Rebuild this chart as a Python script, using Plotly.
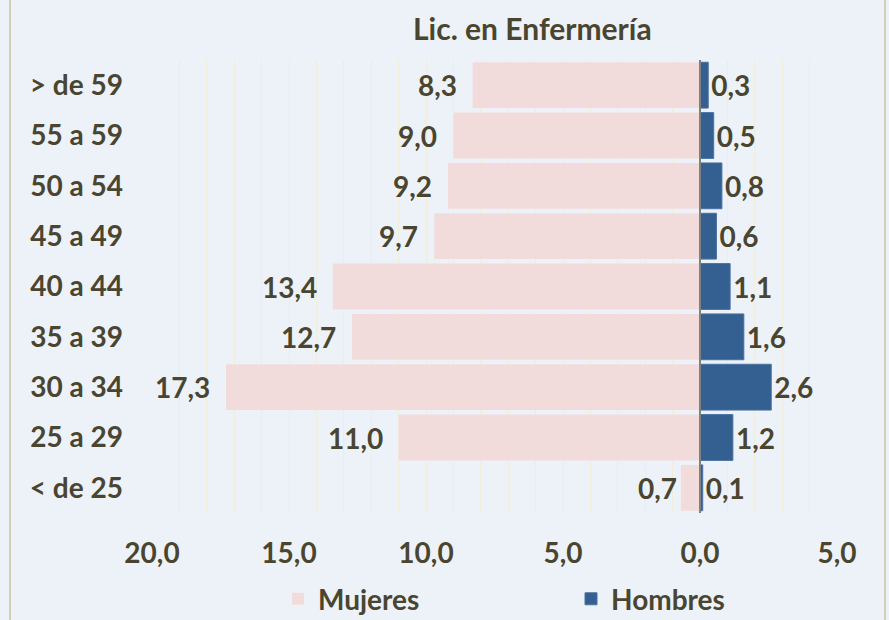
import plotly.graph_objects as go

categories = ["> de 59", "55 a 59", "50 a 54", "45 a 49", "40 a 44", "35 a 39", "30 a 34", "25 a 29", "< de 25"]
mujeres = [8.3, 9.0, 9.2, 9.7, 13.4, 12.7, 17.3, 11.0, 0.7]
hombres = [0.3, 0.5, 0.8, 0.6, 1.1, 1.6, 2.6, 1.2, 0.1]
tick_vals = [-20, -15, -10, -5, 0, 5]
tick_text = ["20,0", "15,0", "10,0", "5,0", "0,0", "5,0"]

TXT = "#4A4530"
FONT = "Lato"
FS = 28
BG = "#EDF2F9"

def fmt(v):
    return f"{v:.1f}".replace(".", ",")

def bfont(size=FS):
    return dict(family=FONT, size=size, color=TXT, weight="bold")

fig = go.Figure()
fig.add_trace(go.Bar(
    y=categories, x=[-v for v in mujeres], orientation="h", name="Mujeres",
    marker=dict(color="#F2DCDB", line=dict(width=0)),
    hoverinfo="skip",
))
fig.add_trace(go.Bar(
    y=categories, x=hombres, orientation="h", name="Hombres",
    marker=dict(color="#335F91", line=dict(color="#4A72A0", width=1)),
    text=[fmt(v) for v in hombres], textposition="outside",
    textfont=bfont(), cliponaxis=False, hoverinfo="skip",
))

for c, v in zip(categories, mujeres):
    fig.add_annotation(x=-v, y=c, text=fmt(v), showarrow=False,
                       xanchor="right", xshift=-14 if v > 1 else -2,
                       font=bfont())

fig.add_annotation(x=0.555, xref="paper", y=1, yref="paper", yshift=32, yanchor="middle",
                   text="Lic. en Enfermería", showarrow=False,
                   font=bfont(30))

fig.add_shape(type="line", xref="x", yref="paper", x0=0, x1=0, y0=0, y1=1,
              line=dict(color="#808080", width=2))
for xp in [(10 - 152) / 685, (885 - 152) / 685]:
    fig.add_shape(type="line", xref="paper", yref="paper", x0=xp, x1=xp,
                  y0=-0.3, y1=1.2, line=dict(color="#D3CFB5", width=2))

fig.update_layout(
    width=889, height=620,
    margin=dict(l=152, r=52, t=60, b=107, autoexpand=False),
    paper_bgcolor=BG, plot_bgcolor=BG,
    barmode="overlay", bargap=0.09,
    font=bfont(),
    showlegend=True,
    legend=dict(orientation="h", x=(278 - 152) / 685, xanchor="left", y=-0.19, yanchor="middle",
                font=bfont(), entrywidth=248, entrywidthmode="pixels",
                itemclick=False, bgcolor="rgba(0,0,0,0)"),
    xaxis=dict(range=[-20, 5], tickvals=tick_vals, ticktext=tick_text,
               showgrid=True, gridcolor="#F1EDDD", gridwidth=1, zeroline=False,
               minor=dict(dtick=1, showgrid=True, gridcolor="#F1EDDD", gridwidth=1),
               ticks="", tickfont=bfont(), ticklabelstandoff=21,
               fixedrange=True),
    yaxis=dict(categoryorder="array", categoryarray=categories[::-1],
               showgrid=False, zeroline=False, ticks="",
               tickfont=bfont(), ticklabelstandoff=28,
               fixedrange=True),
)
fig.update_traces(texttemplate="%{text}", selector=dict(name="Hombres"))

fig.write_html("out.html", config={"displayModeBar": False},
               post_script="document.body.style.margin='0';document.body.style.overflow='hidden';")
